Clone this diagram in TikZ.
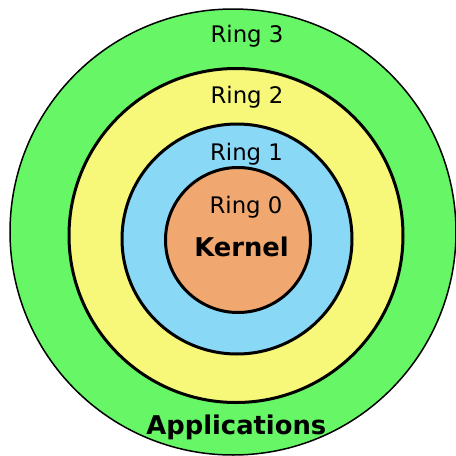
\documentclass[tikz,border=0pt]{standalone}
\usepackage{fontspec}
\setmainfont{DejaVu Sans}
\definecolor{ringthree}{RGB}{102,246,102}
\definecolor{ringtwo}{RGB}{247,247,122}
\definecolor{ringone}{RGB}{137,216,246}
\definecolor{ringzero}{RGB}{240,168,112}
\begin{document}
\begin{tikzpicture}[x=1pt,y=-1pt,
  ring/.style={circle,draw=black,line width=3pt,inner sep=0pt},
  ringlabel/.style={anchor=base,font=\fontsize{22.8}{26}\selectfont,inner sep=0pt},
  mainlabel/.style={anchor=base,font=\fontsize{25.8}{29}\selectfont\bfseries,inner sep=0pt}]
  \useasboundingbox (0,0) rectangle (456,456);
  % privilege rings, outermost first
  \node[ring,fill=ringthree,line width=1.5pt,minimum size=446pt] (r3) at (233,232) {};
  \node[ring,fill=ringtwo,minimum size=334pt] (r2) at (236,235.5) {};
  \node[ring,fill=ringone,minimum size=230pt] (r1) at (237,239) {};
  \node[ring,fill=ringzero,minimum size=145pt] (r0) at (238,240) {};
  % labels
  \node[ringlabel] (l3) at (247,42.7) {Ring 3};
  \node[ringlabel] (l2) at (247,103.3) {Ring 2};
  \node[ringlabel] (l1) at (246.5,160.7) {Ring 1};
  \node[ringlabel] (l0) at (246,213.3) {Ring 0};
  \node[mainlabel] (kern) at (241.5,256.7) {Kernel};
  \node[mainlabel] (apps) at (236.3,434.3) {Applications};
\end{tikzpicture}
\end{document}
